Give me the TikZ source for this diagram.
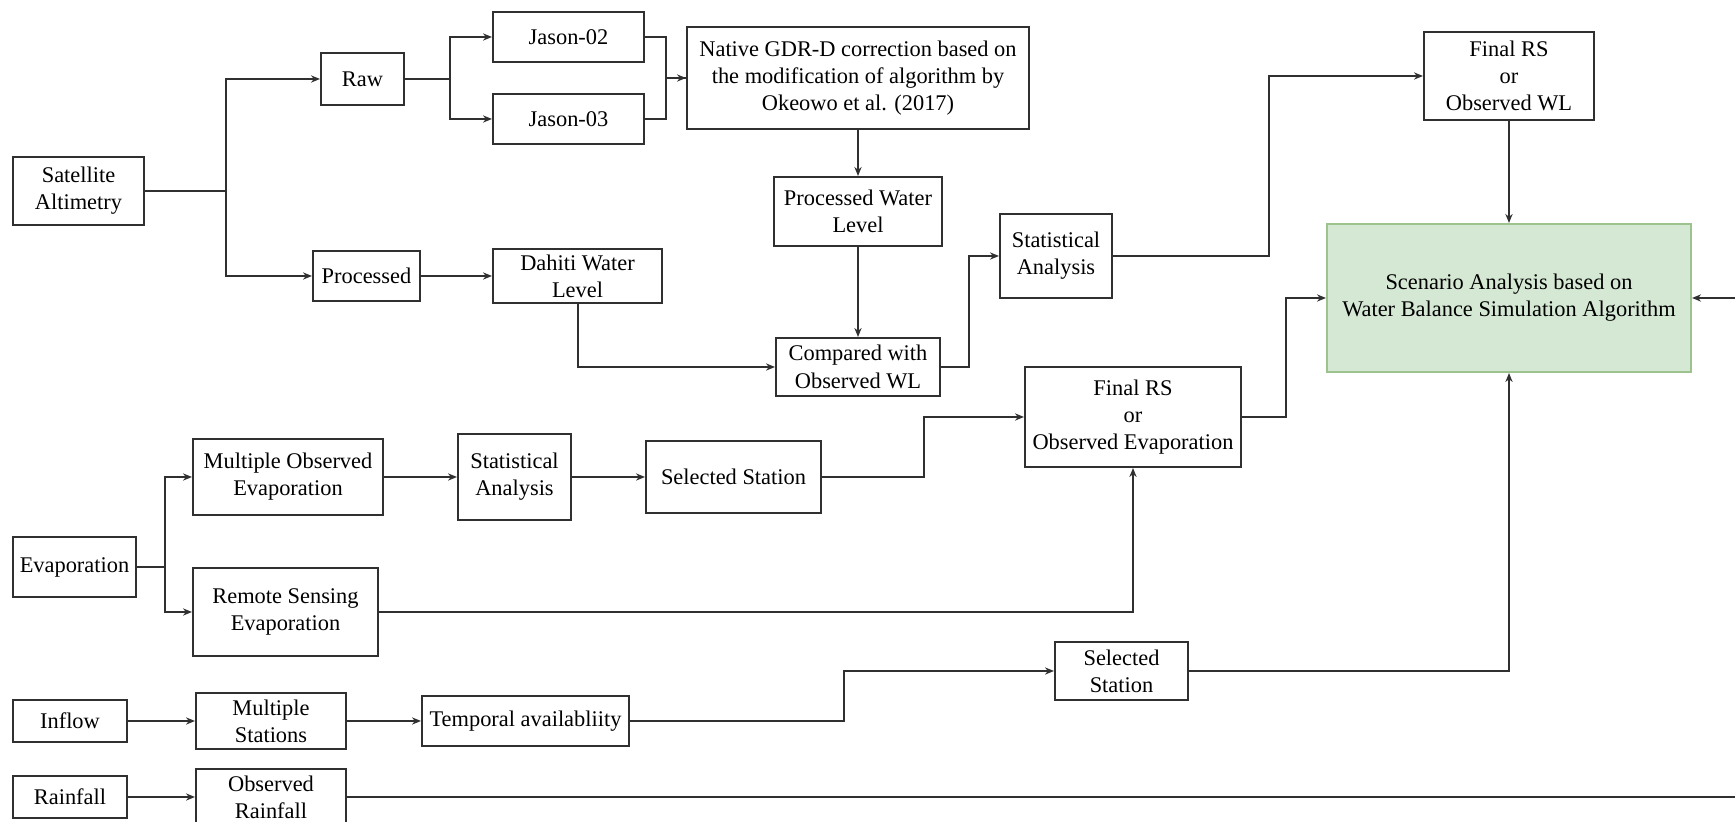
\documentclass[tikz,border=0pt]{standalone}
\usepackage{fontspec}
\setmainfont{Liberation Serif}
\usetikzlibrary{arrows.meta}
\definecolor{edge}{HTML}{303030}
\definecolor{greenfill}{HTML}{D5E8D4}
\definecolor{greenline}{HTML}{9CC38E}
\tikzset{
  blk/.style={draw=edge, line width=1pt, rectangle, inner sep=0pt, align=center,
    font=\fontsize{11.2}{13.6}\selectfont, text=black},
  goal/.style={blk, draw=greenline, fill=greenfill},
  link/.style={draw=edge, line width=1pt},
  arr/.style={link, -{Stealth[length=4.5pt,width=3.6pt]}}
}
% box from its corners: [style]{name}{x1}{y1}{x2}{y2}{text}
\newcommand\blk[7][]{%
  \pgfmathsetmacro\bw{(#5-#3)*0.5}%
  \pgfmathsetmacro\bh{(#6-#4)*0.5}%
  \node[blk,#1,minimum width=\bw pt,minimum height=\bh pt] (#2) at ({(#3+#5)/2},{(#4+#6)/2}) {#7};}
\begin{document}
\begin{tikzpicture}[x=0.5pt,y=-0.5pt]
\useasboundingbox (0,0) rectangle (1735,822);
\clip (0,0) rectangle (1735,822);

% satellite altimetry branch
\blk{sat}{13}{157}{144}{225}{Satellite\\Altimetry}
\blk{raw}{321}{53}{404}{105}{Raw}
\blk{j02}{493}{12}{644}{62}{Jason-02}
\blk{j03}{493}{94}{644}{144}{Jason-03}
\blk{nat}{687}{27}{1029}{129}{Native GDR-D correction based on\\the modification of algorithm by\\Okeowo et al. (2017)}
\blk{pwl}{774}{177}{942}{246}{Processed Water\\Level}
\blk{prc}{313}{251}{420}{301}{Processed}
\blk{dah}{493}{249}{662}{303}{Dahiti Water\\Level}
\blk{cmp}{776}{338}{940}{396}{Compared with\\Observed WL}
\blk{st1}{1000}{214}{1112}{298}{Statistical\\Analysis}
\blk{fwl}{1424}{32}{1594}{120}{Final RS\\or\\Observed WL}
\blk[goal]{scn}{1327}{224}{1691}{372}{Scenario Analysis based on\\Water Balance Simulation Algorithm}

% evaporation branch
\blk{eva}{13}{537}{136}{597}{Evaporation}
\blk{moe}{193}{439}{383}{515}{Multiple Observed\\Evaporation}
\blk{st2}{458}{434}{571}{520}{Statistical\\Analysis}
\blk{ss1}{646}{441}{821}{513}{Selected Station}
\blk{rse}{193}{568}{378}{656}{Remote Sensing\\Evaporation}
\blk{fev}{1025}{367}{1241}{467}{Final RS\\or\\Observed Evaporation}

% inflow and rainfall
\blk{inf}{13}{700}{127}{742}{Inflow}
\blk{mst}{196}{693}{346}{749}{Multiple\\Stations}
\blk{tmp}{422}{696}{629}{746}{Temporal availabliity}
\blk{ss2}{1055}{642}{1188}{700}{Selected\\Station}
\blk{rnf}{13}{776}{127}{818}{Rainfall}
\blk{orf}{196}{769}{346}{825}{Observed\\Rainfall}

\coordinate (rainend) at (1735,797);
\coordinate (sidein) at (1735,298);

% connectors: altimetry
\draw[arr] (sat.east) -- ++(81,0) |- (raw.west);
\draw[arr] (sat.east) -- ++(81,0) |- (prc.west);
\draw[arr] (raw.east) -- ++(45,0) |- (j02.west);
\draw[arr] (raw.east) -- ++(45,0) |- (j03.west);
\draw[arr] (j02.east) -- ++(21,0) |- (nat.west);
\draw[link] (j03.east) -- ++(21,0) |- (nat.west);
\draw[arr] (nat.south) -- (pwl.north);
\draw[arr] (pwl.south) -- (cmp.north);
\draw[arr] (prc.east) -- (dah.west);
\draw[arr] (dah.south) |- (cmp.west);
\draw[arr] (cmp.east) -- ++(28,0) |- (st1.west);
\draw[arr] (st1.east) -- ++(156,0) |- (fwl.west);
\draw[arr] (fwl.south) -- (scn.north);

% connectors: evaporation
\draw[arr] (eva.east) -- ++(28,0) |- (moe.west);
\draw[arr] (eva.east) -- ++(28,0) |- (rse.west);
\draw[arr] (moe.east) -- (st2.west);
\draw[arr] (st2.east) -- (ss1.west);
\draw[arr] (ss1.east) -- ++(102,0) |- (fev.west);
\draw[arr] (rse.east) -| (fev.south);
\draw[arr] (fev.east) -- ++(44,0) |- (scn.west);

% connectors: inflow and rainfall
\draw[arr] (inf.east) -- (mst.west);
\draw[arr] (mst.east) -- (tmp.west);
\draw[arr] (tmp.east) -- ++(214,0) |- (ss2.west);
\draw[arr] (ss2.east) -| (scn.south);
\draw[arr] (rnf.east) -- (orf.west);
\draw[link] (orf.east) -- (orf.east -| rainend);
\draw[arr] (sidein) -- (sidein -| scn.east);
\end{tikzpicture}
\end{document}
